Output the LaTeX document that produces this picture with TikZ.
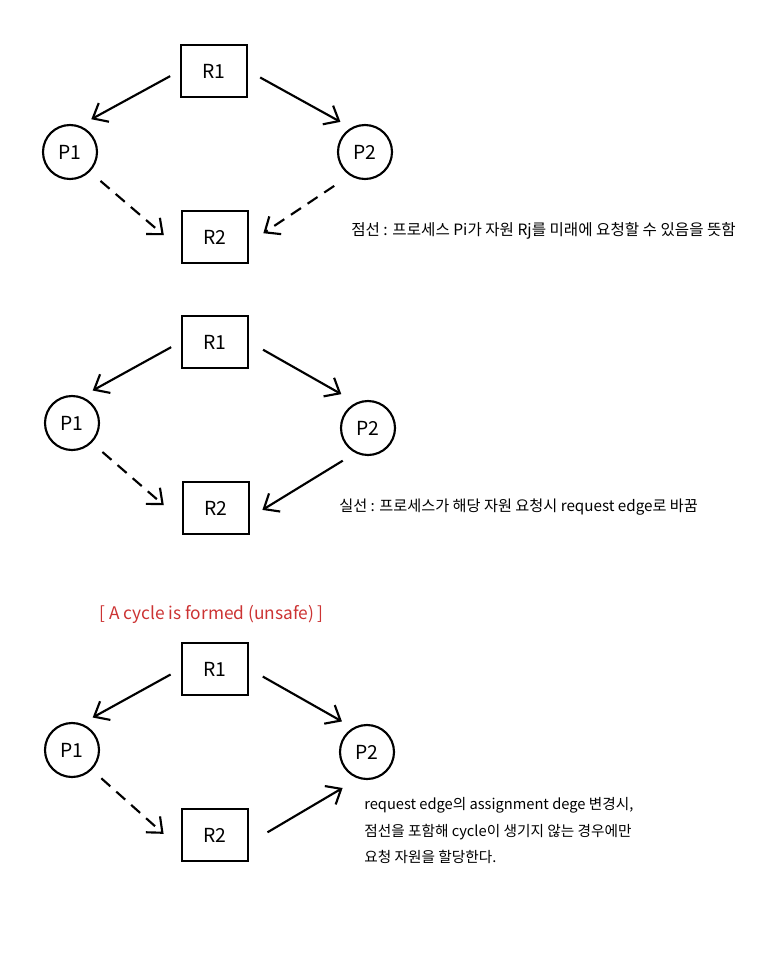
\documentclass[tikz,border=0pt]{standalone}
\usepackage{fontspec}
\setmainfont{Noto Sans CJK KR}
\usetikzlibrary{arrows.meta}
\definecolor{unsafered}{RGB}{204,51,51}

\begin{document}
\begin{tikzpicture}[x=0.75pt, y=-0.75pt,
    res/.style={draw, line width=1.7pt, minimum width=50pt, minimum height=39pt, inner sep=0pt, font=\fontsize{14.5}{16}\selectfont},
    proc/.style={draw, circle, line width=1.6pt, minimum size=40.5pt, inner sep=0pt, font=\fontsize{14.5}{16}\selectfont},
    solidarr/.style={line width=1.6pt, -{Straight Barb[length=9.5pt,width=16pt]}},
    dasharr/.style={solidarr, dash pattern=on 9pt off 6pt},
    note/.style={anchor=west, inner sep=0pt, font=\fontsize{11.5}{13}\selectfont}]
    \useasboundingbox (0,0) rectangle (764,960);

    % First graph: claim edges only
    \node[res] (r1a) at (214,71) {R1};
    \node[proc] (p1a) at (70,152) {P1};
    \node[proc] (p2a) at (365,152) {P2};
    \node[res] (r2a) at (215,237) {R2};
    \draw[solidarr, shorten <=8pt, shorten >=10pt] (r1a.west) -- (p1a.70);
    \draw[solidarr, shorten <=10pt, shorten >=9pt] (r1a.east) -- (p2a.120);
    \draw[dasharr, shorten <=10.5pt, shorten >=16.5pt] (p1a.-45) -- (r2a.200);
    \draw[dasharr, shorten <=14pt, shorten >=12.5pt] (p2a.237) -- (r2a.-9);
    \node[note, font=\fontsize{11.7}{13}\selectfont] (dashnote) at (351,231) {점선 : 프로세스 Pi가 자원 Rj를 미래에 요청할 수 있음을 뜻함};

    % Second graph: P2 requests R2
    \node[res] (r1b) at (215,342) {R1};
    \node[proc] (p1b) at (72,423) {P1};
    \node[proc] (p2b) at (368,428) {P2};
    \node[res] (r2b) at (216,508) {R2};
    \draw[solidarr, shorten <=8pt, shorten >=9.5pt] (r1b.west) -- (p1b.70);
    \draw[solidarr, shorten <=11.7pt, shorten >=12.8pt] (r1b.east) -- (p2b.115);
    \draw[dasharr, shorten <=10.5pt, shorten >=17.6pt] (p1b.-45) -- (r2b.200);
    \draw[solidarr, shorten <=11pt, shorten >=10.5pt] (p2b.243) -- (r2b.-15);
    \node[note, font=\fontsize{11.4}{13}\selectfont] (solidnote) at (339,507) {실선 : 프로세스가 해당 자원 요청시 request edge로 바꿈};

    % Third graph: R2 assigned to P2
    \node[note, text=unsafered, font=\fontsize{13}{15}\selectfont] (unsafe) at (99,614) {[ A cycle is formed (unsafe) ]};
    \node[res] (r1c) at (215,669) {R1};
    \node[proc] (p1c) at (72,750) {P1};
    \node[proc] (p2c) at (367,752) {P2};
    \node[res] (r2c) at (215,835) {R2};
    \draw[solidarr, shorten <=8.5pt, shorten >=9.5pt] (r1c.west) -- (p1c.70);
    \draw[solidarr, shorten <=11.5pt, shorten >=9.5pt] (r1c.east) -- (p2c.120);
    \draw[dasharr, shorten <=9.5pt, shorten >=17pt] (p1c.-45) -- (r2c.202);
    \draw[solidarr, shorten <=15.7pt, shorten >=13.7pt] (r2c.-13) -- (p2c.252);
    \node[note, font=\fontsize{11}{13}\selectfont] (rule1) at (364,805) {request edge의 assignment dege 변경시,};
    \node[note, font=\fontsize{11}{13}\selectfont] (rule2) at (364,832) {점선을 포함해 cycle이 생기지 않는 경우에만};
    \node[note, font=\fontsize{11}{13}\selectfont] (rule3) at (364,857) {요청 자원을 할당한다.};
\end{tikzpicture}
\end{document}
